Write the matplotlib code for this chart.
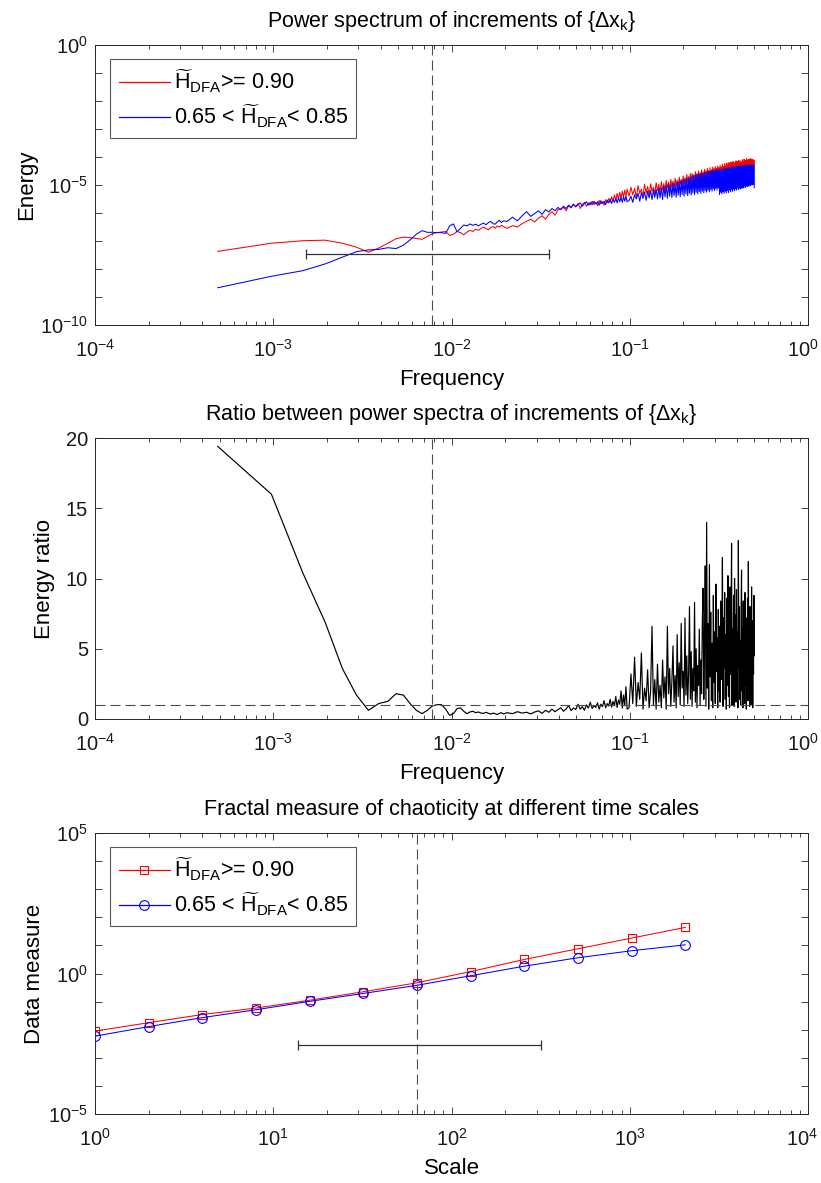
import numpy as np
import matplotlib
matplotlib.use('Agg')
import matplotlib.pyplot as plt
from matplotlib.ticker import LogLocator, FixedLocator, NullFormatter, NullLocator, FuncFormatter
from matplotlib.lines import Line2D
from matplotlib.transforms import ScaledTranslation

plt.rcParams['font.family'] = ['Liberation Sans', 'DejaVu Sans']
plt.rcParams['mathtext.fontset'] = 'custom'
plt.rcParams['mathtext.rm'] = 'Liberation Sans'
plt.rcParams['mathtext.it'] = 'Liberation Sans:italic'
plt.rcParams['mathtext.bf'] = 'Liberation Sans:bold'
plt.rcParams['mathtext.sf'] = 'Liberation Sans'
plt.rcParams['font.size'] = 14

AX_COLOR = '0.15'
RED = '#ff0000'
BLUE = '#0000ff'

# ---------------- frequency grid (bins k / 2048) ----------------
N_FFT = 2048
bins_low = np.arange(1, 41)
bins_mid = np.arange(42, 201, 3)
bins_high = np.arange(203, 1025, 5)
freq = np.concatenate([bins_low, bins_mid, bins_high]) / N_FFT

# ---------------- log10 power spectra ----------------
red_log_low = [-7.37, -7.08, -6.99, -6.97, -7.08, -7.22, -7.40, -7.25, -7.08, -6.92,
               -6.86, -6.88, -6.91, -6.94, -6.84, -6.74, -6.70, -6.68, -6.66, -6.80,
               -6.76, -6.66, -6.70, -6.78, -6.68, -6.62, -6.66, -6.58, -6.62, -6.55,
               -6.50, -6.56, -6.60, -6.52, -6.48, -6.54, -6.46, -6.50, -6.44, -6.48]
red_log_mid = [-6.55, -6.45, -6.50, -6.38, -6.30, -6.22, -6.32, -6.18, -6.10, -6.22,
               -6.05, -5.95, -6.08, -5.88, -5.85, -5.80, -5.92, -5.74, -5.82, -5.70,
               -5.78, -5.66, -5.84, -5.70, -5.62, -5.76, -5.64, -5.72, -5.58, -5.70,
               -5.62, -5.74, -5.55, -5.68, -5.60, -5.72, -5.52, -5.64, -5.48, -5.62,
               -5.42, -5.58, -5.36, -5.55, -5.30, -5.50, -5.26, -5.48, -5.22, -5.44,
               -5.18, -5.40, -5.15]
red_log_high = [
    -5.40, -5.08, -5.35, -5.12, -5.44, -5.02, -5.30, -5.15, -5.38, -4.98,
    -5.28, -5.05, -5.34, -4.96, -5.22, -5.08, -5.30, -4.92, -5.20, -4.98,
    -5.25, -4.88, -5.18, -4.95, -5.22, -4.84, -5.10, -4.90, -5.16, -4.80,
    -5.08, -4.86, -5.12, -4.76, -5.02, -4.82, -5.06, -4.72, -4.98, -4.80,
    -5.04, -4.68, -4.94, -4.74, -4.98, -4.62, -4.90, -4.70, -4.95, -4.60,
    -4.88, -4.58, -4.84, -4.64, -4.90, -4.52, -4.80, -4.60, -4.86, -4.50,
    -4.78, -4.56, -4.82, -4.46, -4.74, -4.54, -4.80, -4.44, -4.72, -4.50,
    -4.76, -4.40, -4.70, -4.48, -4.74, -4.38, -4.66, -4.46, -4.72, -4.36,
    -4.64, -4.42, -4.70, -4.34, -4.62, -4.40, -4.68, -4.32, -4.60, -4.38,
    -4.66, -4.30, -4.58, -4.36, -4.64, -4.26, -4.56, -4.34, -4.62, -4.24,
    -4.54, -4.32, -4.60, -4.22, -4.52, -4.30, -4.58, -4.20, -4.50, -4.28,
    -4.56, -4.18, -4.48, -4.26, -4.54, -4.16, -4.46, -4.24, -4.52, -4.20,
    -4.50, -4.14, -4.44, -4.22, -4.50, -4.16, -4.46, -4.12, -4.42, -4.20,
    -4.48, -4.14, -4.44, -4.20, -4.50, -4.10, -4.42, -4.18, -4.46, -4.08,
    -4.40, -4.16, -4.48, -4.12, -4.38, -4.06, -4.44, -4.14, -4.40, -4.10,
    -4.46, -4.08, -4.36, -4.16, -4.42, -4.06, -4.40, -4.12, -4.44, -4.08,
    -4.38, -4.14, -4.42, -4.10, -4.30]

blue_log_low = [-8.67, -8.26, -8.06, -7.82, -7.58, -7.38, -7.32, -7.30, -7.24, -7.27,
                -7.15, -6.96, -6.76, -6.63, -6.69, -6.69, -6.70, -6.70, -6.73, -6.46,
                -6.39, -6.67, -6.55, -6.43, -6.46, -6.39, -6.44, -6.40, -6.46, -6.40,
                -6.36, -6.42, -6.34, -6.30, -6.38, -6.40, -6.32, -6.26, -6.34, -6.28]
blue_log_mid = [-6.30, -6.15, -6.28, -6.10, -5.95, -6.12, -6.02, -5.92, -6.05, -5.88,
                -5.96, -5.84, -5.92, -5.80, -5.88, -5.76, -5.84, -5.72, -5.80, -5.68,
                -5.78, -5.70, -5.64, -5.76, -5.66, -5.60, -5.72, -5.62, -5.70, -5.58,
                -5.68, -5.60, -5.72, -5.56, -5.66, -5.58, -5.70, -5.54, -5.64, -5.50,
                -5.66, -5.52, -5.62, -5.48, -5.64, -5.46, -5.60, -5.44, -5.62, -5.42,
                -5.58, -5.40, -5.60]
blue_log_high = [
    -5.55, -5.40, -5.62, -5.35, -5.50, -5.30, -5.58, -5.28, -5.48, -5.25,
    -5.55, -5.22, -5.46, -5.20, -5.52, -5.18, -5.44, -5.15, -5.50, -5.12,
    -5.46, -5.10, -5.52, -5.05, -5.42, -5.02, -5.48, -4.98, -5.40, -5.00,
    -5.45, -4.94, -5.38, -4.96, -5.44, -4.90, -5.36, -4.88, -5.42, -4.85,
    -5.34, -4.82, -5.40, -4.80, -5.32, -4.78, -5.38, -4.74, -5.30, -4.72,
    -5.36, -4.70, -5.28, -4.66, -5.34, -4.64, -5.26, -4.62, -5.32, -4.60,
    -5.24, -4.62, -5.30, -4.58, -5.22, -4.60, -5.28, -4.56, -5.20, -4.58,
    -5.26, -4.54, -5.18, -4.52, -5.24, -4.54, -5.16, -4.50, -5.22, -4.48,
    -5.14, -4.50, -5.20, -4.46, -5.12, -4.48, -5.18, -4.45, -5.10, -4.46,
    -5.34, -4.45, -5.26, -4.47, -5.32, -4.43, -5.24, -4.45, -5.30, -4.41,
    -5.22, -4.43, -5.28, -4.40, -5.20, -4.42, -5.26, -4.38, -5.18, -4.40,
    -5.24, -4.37, -5.16, -4.39, -5.22, -4.35, -5.14, -4.38, -5.20, -4.35,
    -5.12, -4.37, -5.18, -4.33, -5.10, -4.35, -5.16, -4.32, -5.08, -4.34,
    -5.14, -4.34, -5.06, -4.32, -5.12, -4.30, -5.04, -4.34, -5.10, -4.30,
    -5.02, -4.32, -5.08, -4.29, -5.00, -4.32, -5.06, -4.29, -4.98, -4.31,
    -5.04, -4.28, -4.96, -4.31, -5.02, -4.30, -4.94, -4.31, -5.00, -4.28,
    -4.92, -4.30, -4.98, -4.31, -5.10]

# ---------------- ratio of the two spectra ----------------
ratio_low = [19.4, 16.0, 10.4, 6.9, 3.6, 1.7, 0.62, 1.1, 1.26, 1.8,
             1.7, 1.1, 0.62, 0.38, 0.62, 0.93, 1.02, 1.02, 0.7, 0.26,
             0.38, 0.74, 0.79, 0.55, 0.38, 0.5, 0.55, 0.45, 0.5, 0.42,
             0.4, 0.48, 0.4, 0.35, 0.42, 0.38, 0.32, 0.4, 0.45, 0.36]
ratio_mid = [0.45, 0.38, 0.52, 0.42, 0.48, 0.36, 0.50, 0.58, 0.40, 0.62,
             0.48, 0.70, 0.52, 0.66, 0.80, 0.55, 0.72, 0.95, 0.60, 0.78,
             0.68, 1.05, 0.70, 0.88, 0.62, 1.00, 0.78, 1.20, 0.75, 0.95,
             0.82, 1.15, 0.70, 1.05, 0.88, 1.30, 0.80, 1.10, 0.92, 1.40,
             0.85, 1.25, 0.95, 1.60, 0.82, 1.35, 1.05, 2.00, 0.78, 1.70,
             0.95, 2.30, 0.70]
ratio_high = [
    0.8, 3.2, 1.1, 4.4, 0.9, 2.6, 1.4, 4.7, 0.7, 2.2,
    1.3, 3.5, 0.8, 1.9, 6.6, 1.0, 2.8, 0.7, 3.9, 1.2,
    2.4, 0.8, 4.2, 1.5, 3.0, 0.7, 6.6, 1.8, 3.6, 0.9,
    2.7, 5.2, 1.2, 3.1, 0.8, 6.0, 1.6, 4.0, 1.0, 6.8,
    2.2, 3.4, 0.9, 7.2, 1.7, 4.5, 1.1, 3.2, 8.0, 1.4,
    4.8, 0.9, 3.6, 2.0, 8.3, 1.2, 5.0, 0.8, 3.8, 2.4,
    6.4, 1.0, 4.2, 1.8, 7.0, 9.3, 1.4, 5.6, 10.9, 0.9,
    14.0, 2.2, 6.8, 0.7, 11.0, 3.0, 7.6, 1.3, 5.4, 0.8,
    8.8, 2.6, 6.2, 1.1, 9.6, 3.4, 5.8, 0.8, 7.8, 2.0,
    6.6, 1.2, 8.4, 2.8, 5.2, 11.5, 0.9, 7.2, 3.6, 9.0,
    1.4, 6.0, 0.7, 8.6, 2.4, 10.2, 1.6, 5.4, 0.8, 9.4,
    3.2, 7.0, 12.5, 1.0, 6.4, 2.6, 8.8, 0.9, 10.0, 4.2,
    7.4, 1.2, 9.2, 2.8, 6.2, 0.8, 12.7, 3.6, 8.0, 1.4,
    5.6, 1.0, 7.8, 10.6, 2.0, 6.6, 0.8, 8.4, 3.0, 5.0,
    1.1, 9.0, 2.4, 7.2, 0.7, 6.0, 3.8, 8.6, 1.3, 11.2,
    2.2, 6.8, 0.9, 8.0, 4.0, 5.6, 1.0, 9.4, 2.6, 7.0,
    0.8, 6.2, 3.2, 8.8, 4.5]

# ---------------- fractal measure vs. scale ----------------
scales = [1, 2, 4, 8, 16, 32, 64, 128, 256, 512, 1024, 2048]
measure_high_h = [0.0089, 0.0178, 0.0347, 0.0589, 0.112, 0.224,
                  0.468, 1.17, 3.16, 7.59, 18.2, 43.7]
measure_mid_h = [0.0059, 0.0129, 0.0269, 0.0513, 0.102, 0.195,
                 0.380, 0.832, 1.82, 3.63, 6.46, 10.5]

# reference markers
f_mark = 1 / 128
f_range = (0.00152, 0.0354)
e_bar_level = 3.5e-8
s_mark = 64
s_range = (13.7, 317.0)
m_bar_level = 2.9e-3

label_hi = r'$\widetilde{\mathrm{H}}_{\mathrm{DFA}}$>= 0.90'
label_mid = r'0.65 < $\widetilde{\mathrm{H}}_{\mathrm{DFA}}$< 0.85'

energy_red = 10.0 ** np.concatenate([red_log_low, red_log_mid, red_log_high])
energy_blue = 10.0 ** np.concatenate([blue_log_low, blue_log_mid, blue_log_high])
ratio = np.concatenate([ratio_low, ratio_mid, ratio_high])

fig = plt.figure(figsize=(8.21, 11.83), dpi=100)
left, width = 95 / 821, 713 / 821
ax1 = fig.add_axes([left, 1 - 325 / 1183, width, 280 / 1183])
ax2 = fig.add_axes([left, 1 - 719 / 1183, width, 281 / 1183])
ax3 = fig.add_axes([left, 1 - 1114 / 1183, width, 281 / 1183])

DASH = (0, (9, 4.5))
TITLE_FS = 15.5
LABEL_FS = 16
TICK_FS = 14.5
LEGEND_FS = 15.5
TITLE_PAD = 13


def decade_formatter(step):
    def fmt(v, pos):
        e = int(round(np.log10(v)))
        if e % step != 0:
            return ''
        return r'$\mathdefault{10^{%d}}$' % e
    return FuncFormatter(fmt)


def style(ax):
    for sp in ax.spines.values():
        sp.set_color(AX_COLOR)
        sp.set_linewidth(0.7)
    ax.tick_params(which='both', direction='in', top=True, right=True,
                   color=AX_COLOR, labelcolor='0.1', width=0.6, labelsize=TICK_FS)
    ax.tick_params(which='major', length=5)
    ax.tick_params(axis='x', which='major', pad=10)
    ax.tick_params(axis='y', which='major', pad=5)
    ax.tick_params(which='minor', length=2.8)


def log_x(ax, lo, hi):
    ax.set_xscale('log')
    ax.set_xlim(lo, hi)
    ax.xaxis.set_major_locator(LogLocator(base=10, numticks=20))
    ax.xaxis.set_minor_locator(LogLocator(base=10, subs=np.arange(2, 10), numticks=20))
    ax.xaxis.set_minor_formatter(NullFormatter())


def log_y(ax, lo_exp, hi_exp, step):
    ax.set_yscale('log')
    ax.set_ylim(10.0 ** lo_exp, 10.0 ** hi_exp)
    ax.yaxis.set_major_locator(FixedLocator(10.0 ** np.arange(lo_exp, hi_exp + 1)))
    ax.yaxis.set_major_formatter(decade_formatter(step))
    ax.yaxis.set_minor_locator(NullLocator())


def legend(ax, handles):
    lg = ax.legend(handles=handles, loc='upper left',
                   bbox_to_anchor=(15 / 713, 1 - 14 / 280), borderaxespad=0,
                   fontsize=LEGEND_FS, handlelength=2.4, handletextpad=0.15,
                   borderpad=0.4, labelspacing=0.35, fancybox=False,
                   framealpha=1, edgecolor='0.35')
    lg.get_frame().set_linewidth(0.8)
    return lg


# ---- panel 1: power spectra ----
ax1.plot(freq, energy_red, color=RED, lw=0.75)
ax1.plot(freq, energy_blue, color=BLUE, lw=0.75)
ax1.axvline(f_mark, color='0.3', lw=0.8, ls=DASH)
ax1.errorbar([f_mark], [e_bar_level],
             xerr=[[f_mark - f_range[0]], [f_range[1] - f_mark]],
             fmt='none', ecolor='0.2', elinewidth=0.9, capsize=3.5, capthick=0.9)
log_x(ax1, 1e-4, 1)
log_y(ax1, -10, 0, 5)
style(ax1)
ax1.set_title(r'Power spectrum of increments of {$\Delta$x$_\mathrm{k}$}', fontsize=TITLE_FS, pad=TITLE_PAD)
ax1.set_xlabel('Frequency', fontsize=LABEL_FS, labelpad=6)
ax1.set_ylabel('Energy', fontsize=LABEL_FS, labelpad=2)
legend(ax1, [Line2D([], [], color=RED, lw=0.9, label=label_hi),
             Line2D([], [], color=BLUE, lw=0.9, label=label_mid)])

# ---- panel 2: ratio ----
ax2.plot(freq, ratio, color='k', lw=0.85)
ax2.axvline(f_mark, color='0.3', lw=0.8, ls=DASH)
ax2.axhline(1, color='0.3', lw=0.8, ls=DASH)
log_x(ax2, 1e-4, 1)
ax2.set_ylim(0, 20)
ax2.set_yticks([0, 5, 10, 15, 20])
style(ax2)
ax2.set_title(r'Ratio between power spectra of increments of {$\Delta$x$_\mathrm{k}$}', fontsize=TITLE_FS, pad=TITLE_PAD)
ax2.set_xlabel('Frequency', fontsize=LABEL_FS, labelpad=6)
ax2.set_ylabel('Energy ratio', fontsize=LABEL_FS, labelpad=8)

# ---- panel 3: fractal measure ----
ax3.plot(scales, measure_high_h, color=RED, lw=0.75, marker='s', ms=6,
         mfc='none', mec=RED, mew=0.8)
ax3.plot(scales, measure_mid_h, color=BLUE, lw=0.75, marker='o', ms=7,
         mfc='none', mec=BLUE, mew=0.8)
ax3.axvline(s_mark, color='0.3', lw=0.8, ls=DASH)
ax3.errorbar([s_mark], [m_bar_level],
             xerr=[[s_mark - s_range[0]], [s_range[1] - s_mark]],
             fmt='none', ecolor='0.2', elinewidth=0.9, capsize=3.5, capthick=0.9)
log_x(ax3, 1, 1e4)
log_y(ax3, -5, 5, 5)
style(ax3)
ax3.set_title('Fractal measure of chaoticity at different time scales', fontsize=TITLE_FS, pad=TITLE_PAD)
ax3.set_xlabel('Scale', fontsize=LABEL_FS, labelpad=6)
ax3.set_ylabel('Data measure', fontsize=LABEL_FS, labelpad=2)
legend(ax3, [Line2D([], [], color=RED, lw=0.9, marker='s', ms=6, mfc='none', mew=0.8, label=label_hi),
             Line2D([], [], color=BLUE, lw=0.9, marker='o', ms=7, mfc='none', mew=0.8, label=label_mid)])

# keep the right-most decade label inside the canvas
fig.canvas.draw()
nudge = ScaledTranslation(-4 / 72, 0, fig.dpi_scale_trans)
for ax in (ax1, ax2, ax3):
    last = ax.xaxis.get_major_ticks()
    xmax = ax.get_xlim()[1]
    for tk in last:
        if np.isclose(tk.get_loc(), xmax):
            tk.label1.set_transform(tk.label1.get_transform() + nudge)

fig.savefig('out.png', dpi=100)
